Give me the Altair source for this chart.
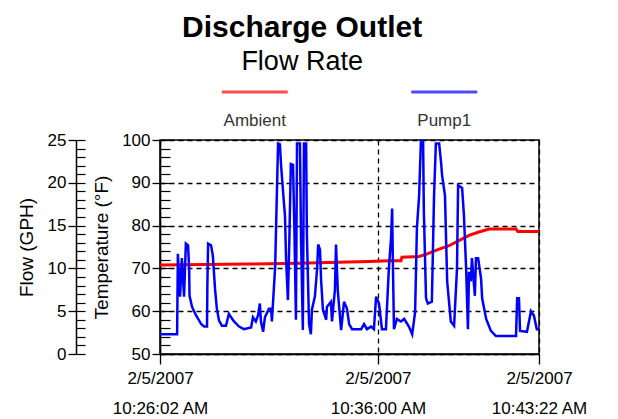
import altair as alt
import pandas as pd

# ---------------- data ----------------
START = "2007-02-05 10:26:02"

series = ["Ambient", "Pump1"]
series_colors = ["#ff0000", "#0000ff"]

# Ambient temperature (deg F), seconds after 10:26:02
amb_sec = [0, 244, 381, 573, 628, 661, 664, 711, 733, 766, 793, 820, 848, 875, 903, 977, 982, 1040]
amb_temp = [70.8, 71.0, 71.2, 71.6, 71.8, 71.8, 72.6, 72.8, 73.4, 74.5, 75.3, 76.5, 77.7, 78.5, 79.2, 79.2, 78.6, 78.6]

# Pump1 flow (GPH), seconds after 10:26:02
pump_sec = [0, 47, 49, 55, 60, 66, 71, 77, 80, 81, 88, 99, 113, 121, 129, 130, 132, 140, 145, 151,
            156, 162, 170, 181, 189, 195, 203, 217, 230, 250, 255, 263, 269, 274, 277, 283, 288, 299, 305, 307,
            316, 320, 324, 329, 332, 338, 343, 346, 351, 355, 359, 365, 369, 373, 376, 384, 387, 392, 395, 401,
            403, 409, 414, 417, 425, 431, 434, 439, 442, 447, 456, 458, 469, 472, 480, 483, 488, 497, 505, 513,
            519, 527, 552, 560, 568, 579, 587, 593, 601, 609, 620, 628, 634, 637, 639, 642, 650, 661, 670, 683,
            692, 700, 705, 711, 716, 722, 724, 730, 735, 746, 752, 757, 766, 771, 774, 782, 788, 798, 807, 815,
            818, 829, 834, 840, 845, 848, 853, 856, 864, 867, 873, 881, 884, 895, 908, 922, 977, 980, 985, 988,
            1007, 1018, 1026, 1034, 1040]
pump_gph = [2.3, 2.3, 11.7, 6.7, 11.2, 6.7, 12.9, 12.7, 10.0, 6.8, 5.5, 4.5, 3.5, 3.2, 3.2, 8.0, 12.9, 12.7, 11.5, 7.6,
            5.3, 3.9, 3.3, 3.3, 4.7, 4.3, 3.8, 3.2, 2.9, 3.1, 4.3, 3.8, 4.5, 5.9, 3.8, 2.6, 4.3, 5.3, 5.3, 3.8,
            10.2, 17.5, 24.6, 24.5, 22.2, 18.8, 16.1, 11.0, 6.3, 13.4, 22.2, 22.1, 14.1, 4.0, 24.6, 24.6, 13.4, 2.8, 24.6, 24.6,
            14.1, 3.5, 2.3, 5.2, 6.7, 9.9, 12.8, 12.2, 8.7, 5.2, 4.0, 5.5, 6.1, 3.8, 7.5, 12.8, 7.3, 2.8, 6.1, 5.3,
            3.5, 2.9, 2.9, 3.5, 2.9, 3.2, 2.9, 6.7, 5.9, 2.9, 2.9, 10.0, 13.5, 17.0, 10.8, 2.9, 4.1, 3.8, 4.1, 3.2,
            2.3, 4.9, 14.7, 18.5, 24.9, 24.8, 16.7, 6.5, 5.9, 6.1, 18.5, 24.6, 24.6, 22.5, 20.9, 18.5, 8.5, 3.8, 3.3, 10.0,
            19.7, 19.4, 16.2, 10.0, 2.9, 9.6, 8.5, 11.2, 6.8, 11.2, 11.2, 8.8, 6.5, 4.1, 2.7, 2.1, 2.1, 6.5, 6.5, 2.7,
            2.6, 5.0, 4.5, 2.9, 2.9]

temp_major = [50, 60, 70, 80, 90, 100]
temp_minor = list(range(50, 101, 2))
flow_major = [0, 5, 10, 15, 20, 25]
flow_minor = list(range(0, 26, 1))

# ---------------- frames ----------------
base = pd.Timestamp(START)


def iso(sec):
    return (base + pd.Timedelta(seconds=sec)).strftime("%Y-%m-%dT%H:%M:%SZ")


amb_df = pd.DataFrame({"time": [iso(s) for s in amb_sec], "temp": amb_temp})
pump_df = pd.DataFrame({"time": [iso(s) for s in pump_sec], "flow": pump_gph})
leg_df = pd.DataFrame({"series": series})


def dt(h, m, s):
    return alt.DateTime(year=2007, month=2, date=5, hours=h, minutes=m, seconds=s, utc=True)


t_ticks = [dt(10, 26, 2), dt(10, 36, 0), dt(10, 43, 22)]
x_scale = alt.Scale(type="utc", domain=[dt(10, 26, 2), dt(10, 43, 22)], nice=False)
temp_scale = alt.Scale(domain=[50, 100], nice=False, zero=False)
flow_scale = alt.Scale(domain=[0, 25], nice=False)

W, H = 379, 214
FONT = "Liberation Sans"

x_axis = alt.Axis(
    values=t_ticks,
    labelExpr="[utcFormat(datum.value, '%-m/%-d/%Y'), utcFormat(datum.value, '%I:%M:%S %p')]",
    tickSize=10, tickColor="black", tickWidth=1.3,
    labelFontSize=17, labelLineHeight=30, labelPadding=6, labelColor="black",
    labelFlush=False, labelOverlap=False, labelBound=False,
    domain=True, domainColor="black", domainWidth=1.5,
    grid=True, gridDash=[5, 4], gridColor="black", gridWidth=1.3, gridOpacity=1,
    title=None,
)

temp_axis = alt.Axis(
    orient="left", values=temp_major, tickSize=8, tickColor="black", tickWidth=1.3,
    labelFontSize=17, labelPadding=2, labelColor="black",
    domain=True, domainColor="black", domainWidth=1.5,
    grid=True, gridDash=[5, 4], gridColor="black", gridWidth=1.3, gridOpacity=1,
    title="Temperature (°F)", titleFontSize=19, titleFontWeight="normal", titleColor="black",
    titlePadding=10,
)

flow_axis = alt.Axis(
    orient="left", offset=84, values=flow_major, tickSize=8, tickColor="black", tickWidth=1.3,
    labelFontSize=17, labelPadding=2, labelColor="black",
    domain=True, domainColor="black", domainWidth=1.5, grid=False,
    title="Flow (GPH)", titleFontSize=19, titleFontWeight="normal", titleColor="black",
    titlePadding=11,
)

temp_minor_axis = alt.Axis(
    orient="right", offset=-W, values=temp_minor, tickSize=10, tickColor="black", tickWidth=1.2,
    labels=False, domain=False, grid=False, title=None,
)
flow_minor_axis = alt.Axis(
    orient="right", offset=-(W + 84), values=flow_minor, tickSize=9, tickColor="black", tickWidth=1.2,
    labels=False, domain=False, grid=False, title=None,
)

ambient = alt.Chart(amb_df).mark_line(color=series_colors[0], strokeWidth=3).encode(
    x=alt.X("time:T", scale=x_scale, axis=x_axis),
    y=alt.Y("temp:Q", scale=temp_scale, axis=temp_axis),
)

pump = alt.Chart(pump_df).mark_line(color=series_colors[1], strokeWidth=2.5).encode(
    x=alt.X("time:T", scale=x_scale, axis=None),
    y=alt.Y("flow:Q", scale=flow_scale, axis=flow_axis),
)

temp_minor_layer = alt.Chart(amb_df).mark_line(opacity=0).encode(
    x=alt.X("time:T", scale=x_scale, axis=None),
    y=alt.Y("temp:Q", scale=temp_scale, axis=temp_minor_axis),
)

flow_minor_layer = alt.Chart(pump_df).mark_line(opacity=0).encode(
    x=alt.X("time:T", scale=x_scale, axis=None),
    y=alt.Y("flow:Q", scale=flow_scale, axis=flow_minor_axis),
)

leg_x = alt.X("series:N", scale=alt.Scale(type="band", paddingInner=0, paddingOuter=0), axis=None)

leg_lines = alt.Chart(leg_df).mark_tick(orient="horizontal", size=66, thickness=3).encode(
    x=leg_x,
    y=alt.value(-48),
    color=alt.Color("series:N", scale=alt.Scale(domain=series, range=series_colors), legend=None),
)

leg_text = alt.Chart(leg_df).mark_text(fontSize=17, font=FONT, color="#333333", baseline="middle").encode(
    x=leg_x,
    y=alt.value(-19),
    text="series:N",
)

chart = alt.layer(
    ambient, pump, temp_minor_layer, flow_minor_layer, leg_lines, leg_text
).resolve_scale(
    x="independent", y="independent", color="independent"
).properties(
    width=W, height=H,
    padding={"left": 9, "top": 4, "right": 5, "bottom": 0},
    title=alt.TitleParams(
        text="Discharge Outlet", subtitle="Flow Rate",
        font=FONT, fontSize=30, fontWeight="bold", color="black",
        subtitleFont=FONT, subtitleFontSize=27, subtitleColor="black", subtitlePadding=6,
        anchor="middle", frame="bounds", offset=16,
    ),
).configure_view(
    stroke="black", strokeWidth=1.5
).configure_axis(
    labelFont=FONT, titleFont=FONT
)

chart.save("out.html", embed_options={"renderer": "svg", "actions": False})
